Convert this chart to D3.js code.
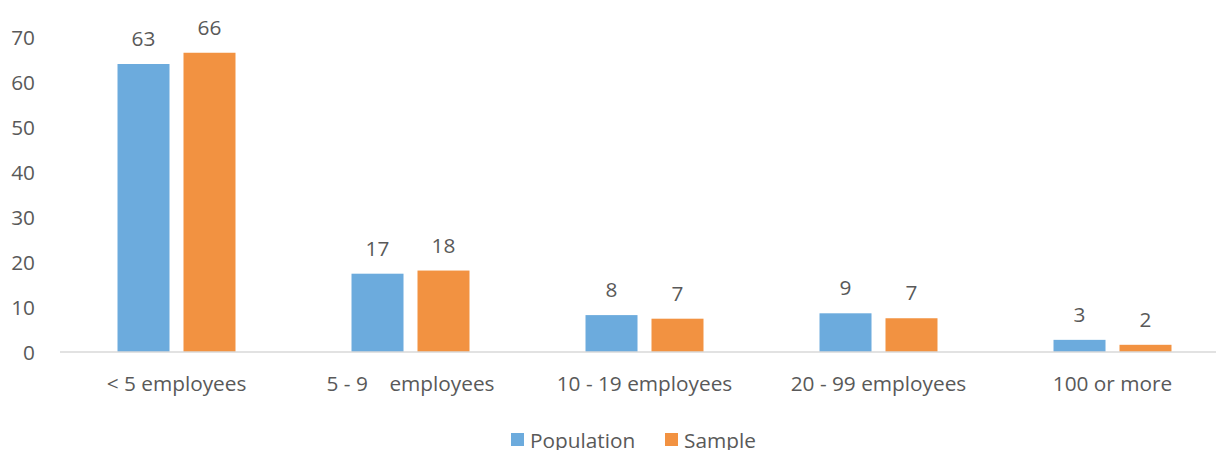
<!DOCTYPE html>
<html>
<head>
<meta charset="utf-8">
<script src="https://cdnjs.cloudflare.com/ajax/libs/d3/7.8.5/d3.min.js"></script>
<style>
	body { margin: 0; background: #fff; }
	text { font-family: "Open Sans", sans-serif; fill: #595959; }
</style>
</head>
<body>
<div class="chart"></div>
<script>
'use strict';
// Yritysten kokoluokat: populaatio vs otos
var categories = ['< 5 employees', '5 - 9    employees', '10 - 19 employees', '20 - 99 employees', '100 or more'];
var series = ['Population', 'Sample'];
var popValues = [64.0, 17.4, 8.2, 8.6, 2.7];
var sampleValues = [66.5, 18.1, 7.4, 7.5, 1.6];
var popLabels = ['63', '17', '8', '9', '3'];
var sampleLabels = ['66', '18', '7', '7', '2'];
var yTicks = [0, 10, 20, 30, 40, 50, 60, 70];
var colors = ['#6cabdd', '#f29241'];

var w = 1216,
	h = 450,
	fs = 20.8;

var svg = d3.select('.chart')
	.append('svg')
	.attr('width', w)
	.attr('height', h);

var x0 = d3.scaleBand()
	.domain(categories)
	.range([59.5, 59.5 + 234 * categories.length]);

var x1 = d3.scaleBand()
	.domain(series)
	.range([0, x0.bandwidth()])
	.paddingInner(0.212)
	.paddingOuter(0.879);

var y = d3.scaleLinear()
	.domain([0, 70])
	.range([352, 37]);

// y-akselin numerot
var yAxis = svg.append('g')
	.attr('transform', 'translate(35,0)')
	.call(d3.axisLeft(y).tickValues(yTicks).tickSize(0).tickPadding(0));
yAxis.select('.domain').remove();
yAxis.selectAll('text')
	.attr('font-size', fs)
	.attr('font-family', '"Open Sans", sans-serif')
	.attr('fill', '#595959')
	.attr('dy', '0.36em');

var data = categories.map(function(c, i) {
	return {
		cat: c,
		vals: [
			{ s: series[0], v: popValues[i], label: popLabels[i] },
			{ s: series[1], v: sampleValues[i], label: sampleLabels[i] }
		]
	};
});

var groups = svg.selectAll('.group')
	.data(data)
	.enter().append('g')
	.attr('class', 'group')
	.attr('transform', function(d) { return 'translate(' + x0(d.cat) + ',0)'; });

groups.selectAll('rect')
	.data(function(d) { return d.vals; })
	.enter().append('rect')
	.attr('x', function(d) { return x1(d.s); })
	.attr('y', function(d) { return y(d.v); })
	.attr('width', x1.bandwidth())
	.attr('height', function(d) { return y(0) - y(d.v); })
	.attr('fill', function(d, i) { return colors[i]; });

groups.selectAll('.lbl')
	.data(function(d) { return d.vals; })
	.enter().append('text')
	.attr('class', 'lbl')
	.attr('x', function(d) { return x1(d.s) + x1.bandwidth() / 2; })
	.attr('y', function(d) { return y(d.v) - 18; })
	.attr('text-anchor', 'middle')
	.attr('font-size', fs)
	.text(function(d) { return d.label; });

// pohjaviiva
svg.append('line')
	.attr('x1', 60)
	.attr('x2', w)
	.attr('y1', y(0))
	.attr('y2', y(0))
	.attr('stroke', '#d9d9d9')
	.attr('stroke-width', 1.5);

// kategoriat
svg.selectAll('.cat')
	.data(categories)
	.enter().append('text')
	.attr('class', 'cat')
	.attr('x', function(d) { return x0(d) + x0.bandwidth() / 2; })
	.attr('y', 391)
	.attr('text-anchor', 'middle')
	.attr('font-size', fs)
	.style('white-space', 'pre')
	.text(function(d) { return d; });

// selite
var legendX = [511, 665];
var legend = svg.selectAll('.leg')
	.data(series)
	.enter().append('g')
	.attr('class', 'leg')
	.attr('transform', function(d, i) { return 'translate(' + legendX[i] + ',433)'; });

legend.append('rect')
	.attr('width', 13)
	.attr('height', 13)
	.attr('fill', function(d, i) { return colors[i]; });

legend.append('text')
	.attr('x', 19)
	.attr('y', 15)
	.attr('font-size', fs)
	.text(function(d) { return d; });
</script>
</body>
</html>
